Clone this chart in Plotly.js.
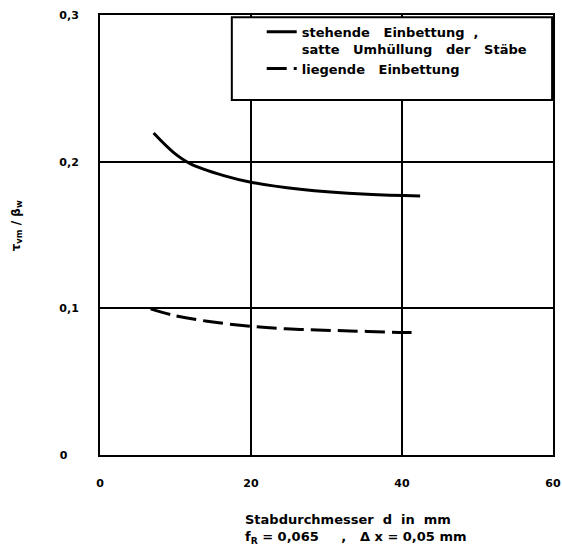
<!DOCTYPE html>
<html>
<head>
<meta charset="utf-8">
<script src="https://cdn.plot.ly/plotly-3.0.1.min.js"></script>
<style>html,body{margin:0;padding:0;background:#fff;}#chart{width:562px;height:558px;}</style>
</head>
<body>
<div id="chart"></div>
<script>
// Data
const solidX = [7.1, 9.8, 12, 16.4, 20, 26.5, 35.4, 42.4];
const solidY = [0.2195, 0.206, 0.1985, 0.1905, 0.186, 0.1812, 0.1777, 0.1766];
const dashedX = [6.7, 9.8, 14.2, 20, 26.5, 33.1, 39.7, 42.1];
const dashedY = [0.0996, 0.0952, 0.0912, 0.0877, 0.0856, 0.0846, 0.0836, 0.0834];
const xTickVals = [0, 20, 40, 60];
const xTickText = ['0', '20', '40', '60'];
const yTickVals = [0, 0.1, 0.2, 0.3];
const yTickText = ['0\u00a0\u00a0\u00a0', '0,1', '0,2', '0,3'];
const S = '\u00a0';
const seriesNames = [
  'stehende' + S.repeat(3) + 'Einbettung' + S.repeat(2) + ',<br>satte' + S.repeat(3) + 'Umhüllung' + S.repeat(3) + 'der' + S.repeat(3) + 'Stäbe',
  'liegende' + S.repeat(3) + 'Einbettung'
];
const xTitleText = 'Stabdurchmesser' + S.repeat(2) + 'd' + S.repeat(2) + 'in' + S.repeat(2) + 'mm<br>f<sub>R</sub>' + S + '=' + S + '0,065' + S.repeat(5) + ',' + S.repeat(3) + 'Δ' + S + 'x' + S + '=' + S + '0,05' + S + 'mm';
const yTitleText = 'τ<sub>vm</sub>' + S + '/' + S + 'β<sub>w</sub>';

const FAM = 'DejaVu Sans, Arial, sans-serif';
const FONT = {family: FAM, size: 12, color: '#000', weight: 'bold'};

const traces = [
  {x: solidX, y: solidY, name: seriesNames[0], mode: 'lines',
   line: {color: '#000', width: 3, shape: 'spline', smoothing: 1}},
  {x: dashedX, y: dashedY, name: seriesNames[1], mode: 'lines',
   line: {color: '#000', width: 3, shape: 'spline', smoothing: 1, dash: '20px,7px'}}
];

const layout = {
  width: 562, height: 558,
  margin: {l: 100, r: 9, t: 15, b: 103},
  paper_bgcolor: '#fff', plot_bgcolor: '#fff',
  font: FONT,
  showlegend: true,
  legend: {x: 0.357, y: 0.996, xanchor: 'left', yanchor: 'top', valign: 'top',
           bgcolor: 'rgba(0,0,0,0)', borderwidth: 0,
           font: {family: FAM, size: 13, color: '#000', weight: 'bold'}},
  xaxis: {range: [0, 60], tickvals: xTickVals, ticktext: xTickText,
          showline: true, mirror: true, linecolor: '#000', linewidth: 2,
          showgrid: true, gridcolor: '#000', gridwidth: 2, zeroline: false,
          ticks: '', ticklabelstandoff: 17, tickfont: {size: 11}, fixedrange: true},
  yaxis: {range: [0, 0.3], tickvals: yTickVals, ticktext: yTickText,
          showline: true, mirror: true, linecolor: '#000', linewidth: 2,
          showgrid: true, gridcolor: '#000', gridwidth: 2, zeroline: false,
          ticks: '', ticklabelstandoff: 17, tickfont: {size: 11}, fixedrange: true},
  shapes: [
    {type: 'rect', xref: 'paper', yref: 'paper', x0: 0.291, x1: 0.998, y0: 0.807, y1: 0.995,
     fillcolor: '#fff', line: {color: '#000', width: 2}, layer: 'above'}
  ],
  annotations: [
    {xref: 'paper', yref: 'paper', x: 0.315, y: -0.125, xanchor: 'left', yanchor: 'top',
     align: 'left', showarrow: false, font: {size: 13}, text: xTitleText},
    {xref: 'paper', yref: 'paper', x: -0.183, y: 0.52, xanchor: 'center', yanchor: 'middle',
     textangle: -90, showarrow: false, font: {size: 12}, text: yTitleText}
  ]
};

Plotly.newPlot('chart', traces, layout, {displayModeBar: false, staticPlot: true});
</script>
</body>
</html>
